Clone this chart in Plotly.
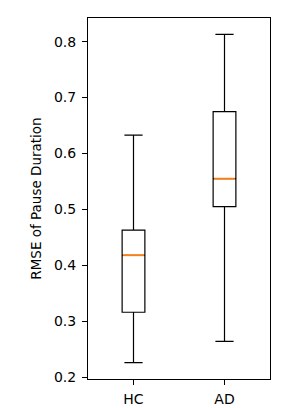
import plotly.graph_objects as go

groups = ["HC", "AD"]
positions = [1, 2]
lower_whisker = [0.226, 0.264]
q1_vals = [0.316, 0.505]
median_vals = [0.418, 0.555]
q3_vals = [0.463, 0.675]
upper_whisker = [0.633, 0.813]
box_width = 0.25

fig = go.Figure()
for i, g in enumerate(groups):
    fig.add_trace(go.Box(
        x=[positions[i]], q1=[q1_vals[i]], median=[median_vals[i]], q3=[q3_vals[i]],
        lowerfence=[lower_whisker[i]], upperfence=[upper_whisker[i]],
        name=g, width=box_width, whiskerwidth=0.8,
        fillcolor="rgba(0,0,0,0)", line=dict(color="black", width=1.2),
        boxpoints=False, showlegend=False, hoverinfo="skip",
    ))
for i, g in enumerate(groups):
    fig.add_trace(go.Scatter(
        x=[positions[i] - box_width / 2 + 0.01, positions[i] + box_width / 2 - 0.01],
        y=[median_vals[i], median_vals[i]],
        mode="lines", line=dict(color="#ff7f0e", width=1.8),
        showlegend=False, hoverinfo="skip",
    ))

lo = min(lower_whisker)
hi = max(upper_whisker)
pad = 0.05 * (hi - lo)

fig.update_layout(
    width=302, height=408,
    margin=dict(l=80, r=40, t=9, b=30),
    paper_bgcolor="white", plot_bgcolor="white",
    font=dict(family="DejaVu Sans", size=14, color="black"),
    showlegend=False,
)
fig.update_xaxes(
    range=[0.5, 2.5], tickvals=positions, ticktext=groups,
    showline=True, mirror=True, linecolor="black", linewidth=1,
    ticks="outside", ticklen=5, tickcolor="black", showgrid=False, zeroline=False,
    ticklabelstandoff=2,
)
fig.update_yaxes(
    range=[lo - pad, hi + pad], dtick=0.1, tickformat=".1f",
    showline=True, mirror=True, linecolor="black", linewidth=1,
    ticks="outside", ticklen=5, tickcolor="black", showgrid=False, zeroline=False,
    ticklabelstandoff=3,
    title=dict(text="RMSE of Pause Duration", font=dict(size=13.5), standoff=9),
)

fig.write_html("out.html")
